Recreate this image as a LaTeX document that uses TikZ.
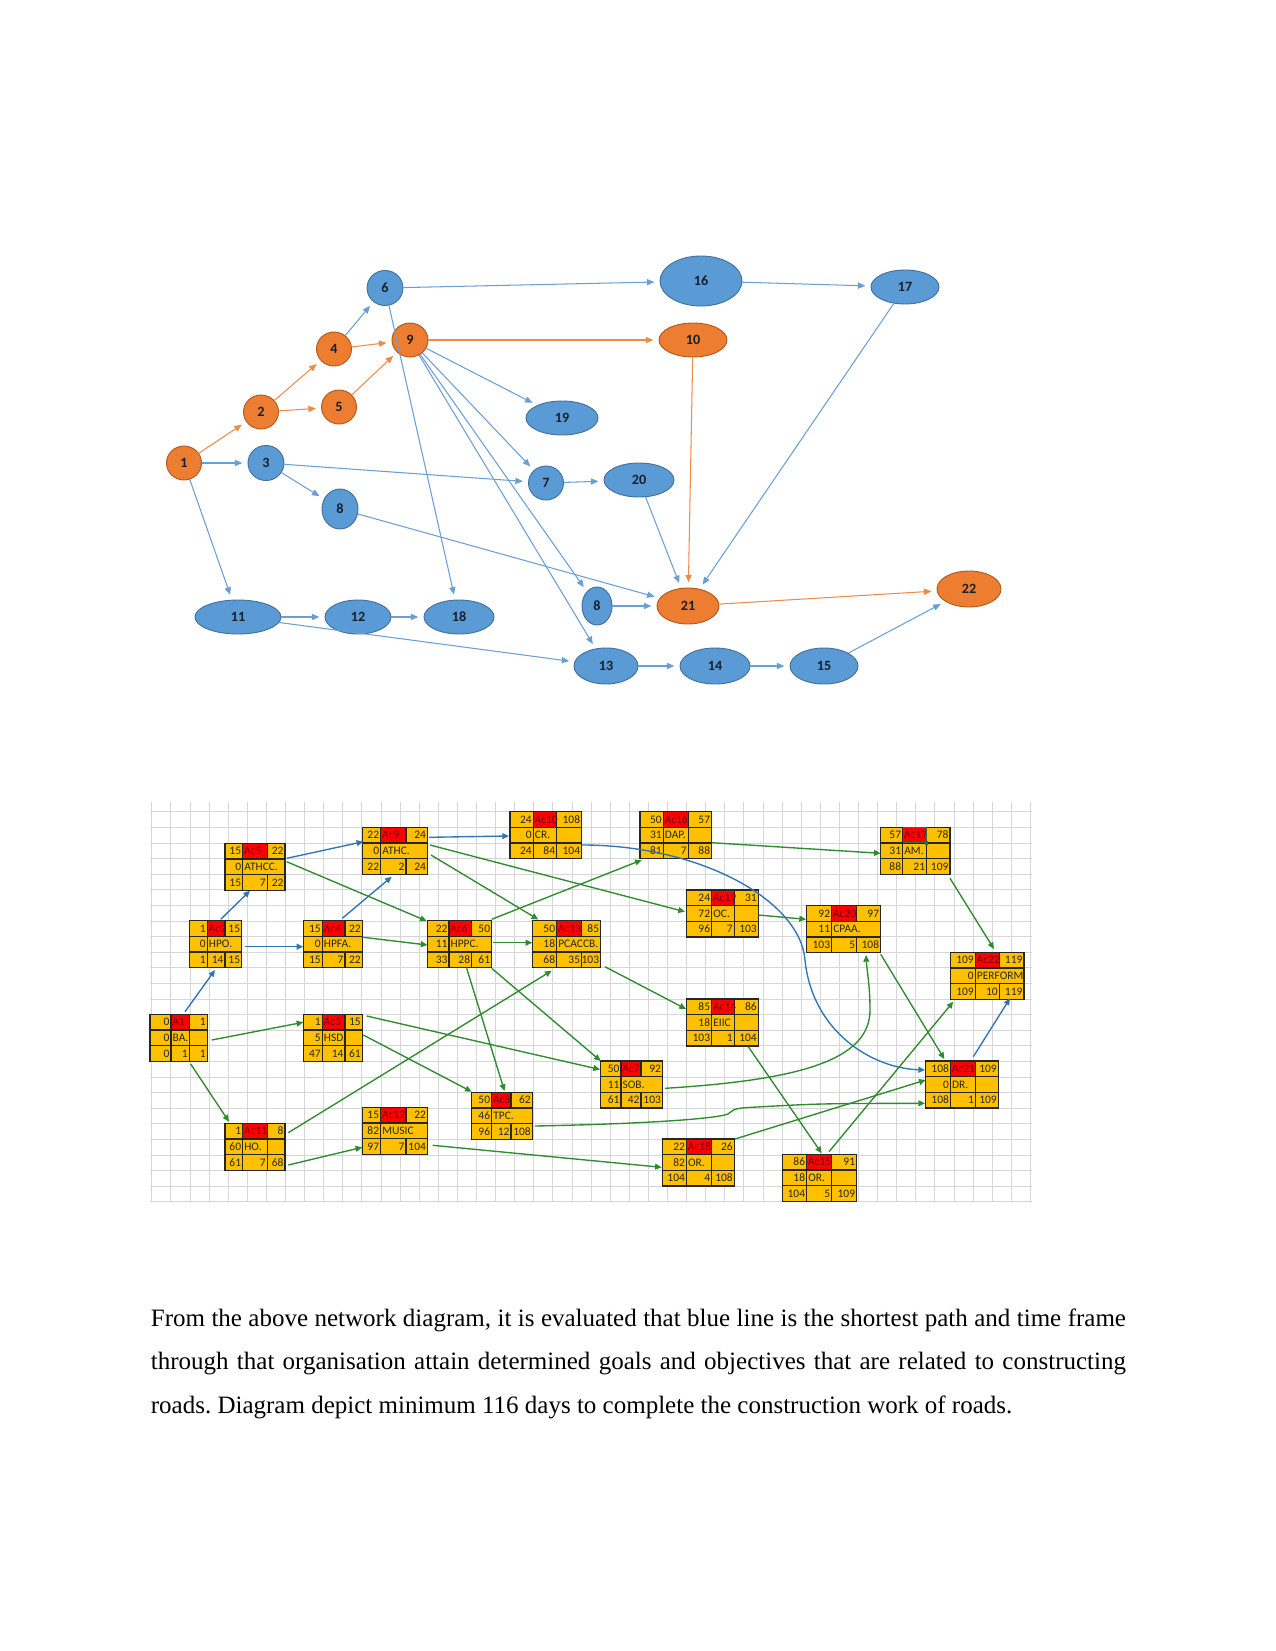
\documentclass[tikz,border=0pt]{standalone}
\usepackage{fontspec}
\setmainfont{Liberation Serif}
\newfontfamily\carl{Carlito}
\usetikzlibrary{arrows.meta,shapes.geometric,calc}
\definecolor{orF}{HTML}{ED7D31}
\definecolor{orD}{HTML}{AE5A21}
\definecolor{blF}{HTML}{5B9BD5}
\definecolor{blD}{HTML}{41719C}
\definecolor{blL}{HTML}{6A9ED6}
\definecolor{orL}{HTML}{EE8A4A}
\definecolor{cellY}{HTML}{FFC000}
\definecolor{cellR}{HTML}{FF0000}
\definecolor{labR}{HTML}{760000}
\definecolor{gL}{HTML}{2E8B2E}
\definecolor{bL}{HTML}{2E75B6}
\definecolor{gridc}{HTML}{D6D6D6}
\definecolor{txtD}{HTML}{15202B}
\definecolor{xlg}{HTML}{217346}

\newcommand\geo[6]{\def\bxA{#1}\def\bxB{#2}\def\bxC{#3}\def\bxD{#4}\def\byA{#5}\def\bdv{#6}}
\newcommand\actbox[9]{%
  \node[boxnode, minimum width={(\bxD-\bxA)*0.48pt}, anchor=north west] (#1) at (\bxA,\byA) {};
  \fill[cellR] (\bxB,\byA) rectangle (\bxC,{\byA+15.67});
  \draw[cellline] (\bxA,{\byA+15.67}) -- (\bxD,{\byA+15.67});
  \draw[cellline] (\bxA,{\byA+31.33}) -- (\bxD,{\byA+31.33});
  \draw[cellline] (\bxB,\byA) -- (\bxB,{\byA+47});
  \draw[cellline] (\bxC,\byA) -- (\bxC,{\byA+15.67});
  \draw[cellline] (\bxC,{\byA+31.33}) -- (\bxC,{\byA+47});
  \ifnum\bdv=1 \draw[cellline] (\bxC,{\byA+15.67}) -- (\bxC,{\byA+31.33});\fi
  \draw[cellline] (\bxA,\byA) rectangle (\bxD,{\byA+47});
  \node[num, anchor=east] (#1-a) at ({\bxB-1.2},{\byA+7.83}) {#2};
  \node[lab, anchor=west] (#1-b) at ({\bxB+0.9},{\byA+7.83}) {#3};
  \node[num, anchor=east] (#1-c) at ({\bxD-1.2},{\byA+7.83}) {#4};
  \node[num, anchor=east] (#1-d) at ({\bxB-1.2},{\byA+23.5}) {#5};
  \node[num, anchor=west] (#1-e) at ({\bxB+1.2},{\byA+23.5}) {#6};
  \node[num, anchor=east] (#1-f) at ({\bxB-1.2},{\byA+39.17}) {#7};
  \node[num, anchor=east] (#1-g) at ({\bxC-1.2},{\byA+39.17}) {#8};
  \node[num, anchor=east] (#1-h) at ({\bxD-1.2},{\byA+39.17}) {#9};
}

\begin{document}
\frenchspacing
\begin{tikzpicture}[x=0.48pt,y=-0.48pt,
  gnode/.style={ellipse, inner sep=0pt, line width=0.45pt, font=\carl\bfseries\fontsize{6.8}{7}\selectfont, text=txtD},
  on/.style={gnode, fill=orF, draw=orD},
  bn/.style={gnode, fill=blF, draw=blD},
  sz/.style 2 args={minimum width={#1*0.96pt}, minimum height={#2*0.96pt}},
  oe/.style={draw=orL, line width=0.5pt, -{Triangle[length=3.6pt,width=3pt]}, shorten >=2.5pt},
  be/.style={draw=blL, line width=0.5pt, -{Triangle[length=3.6pt,width=3pt]}, shorten >=2.5pt},
  boxnode/.style={fill=cellY, inner sep=0pt, minimum height=22.56pt},
  cellline/.style={draw=black!85, line width=0.65pt},
  num/.style={inner sep=0pt, text height=3.6pt, text depth=0pt, font=\carl\fontsize{5.5}{6}\selectfont, text=black!85},
  lab/.style={num, text=labR},
  gA/.style={draw=gL, line width=0.65pt, -{Triangle[length=3.2pt,width=2.8pt]}},
  bA/.style={draw=bL, line width=0.65pt, -{Triangle[length=3.2pt,width=2.8pt]}},
  gridl/.style={draw=gridc, line width=0.35pt}
]
\fill[white] (0,0) rectangle (1275,1651);
\useasboundingbox (0,0) rectangle (1275,1651);

% ---------------- top network ----------------
\node[on, sz={17.5}{17}] (n1) at (184,463) {1};
\node[on, sz={17.5}{17}] (n2) at (261,412) {2};
\node[bn, sz={18}{17.5}] (n3) at (266,463) {3};
\node[on, sz={17.5}{17}] (n4) at (334,349) {4};
\node[on, sz={17.5}{17}] (n5) at (339,407) {5};
\node[bn, sz={18}{17.5}] (n6) at (385,288) {6};
\node[on, sz={18}{17}] (n9) at (410,340) {9};
\node[bn, sz={18}{20}] (n8a) at (340,509) {8};
\node[bn, sz={36}{17}] (n19) at (562,418) {19};
\node[bn, sz={17.5}{17}] (n7) at (546,483) {7};
\node[bn, sz={41}{25}] (n16) at (701,281) {16};
\node[bn, sz={34}{17}] (n17) at (905,287) {17};
\node[on, sz={34}{17}] (n10) at (693,340) {10};
\node[bn, sz={35}{17}] (n20) at (639,480) {20};
\node[bn, sz={43}{17}] (n11) at (238,617) {11};
\node[bn, sz={33}{17}] (n12) at (358,617) {12};
\node[bn, sz={35}{17}] (n18) at (459,617) {18};
\node[bn, sz={15}{19}] (n8b) at (597,606) {8};
\node[on, sz={31}{18}] (n21) at (688,606) {21};
\node[on, sz={32}{18}] (n22) at (969,589) {22};
\node[bn, sz={32}{18}] (n13) at (606,666) {13};
\node[bn, sz={35}{18}] (n14) at (715,666) {14};
\node[bn, sz={34}{18}] (n15) at (824,666) {15};

\draw[oe] (n1) -- (n2);
\draw[oe] (n2) -- (n4);
\draw[oe] (n2) -- (n5);
\draw[oe] (n4) -- (n9);
\draw[oe] (n5) -- (n9);
\draw[oe] (n9) -- (n10);
\draw[oe] (n10) -- (n21);
\draw[oe] (n21) -- (n22);
\draw[be] (n1) -- (n3);
\draw[be] (n1) -- (n11);
\draw[be] (n3) -- (n7);
\draw[be] (n3) -- (n8a);
\draw[be] (n4) -- (n6);
\draw[be] (n6) -- (n16);
\draw[be] (n6) -- (n18);
\draw[be] (n9) -- (n19);
\draw[be] (n9) -- (n7);
\draw[be] (n9) -- (n8b);
\draw[be] (n9) -- (n13);
\draw[be] (n7) -- (n20);
\draw[be] (n20) -- (n21);
\draw[be] (n16) -- (n17);
\draw[be] (n17) -- (n21);
\draw[be] (n8a) -- (n21);
\draw[be] (n8b) -- (n21);
\draw[be] (n11) -- (n12);
\draw[be] (n12) -- (n18);
\draw[be] (n11) -- (n13);
\draw[be] (n13) -- (n14);
\draw[be] (n14) -- (n15);
\draw[be] (n15) -- (n22);

% ---------------- grid ----------------
\foreach \k in {0,...,46} \draw[gridl] ({151.7+19.1*\k},802) -- ({151.7+19.1*\k},1202);
\foreach \k in {0,...,25} \draw[gridl] (150,{811.7+15.6*\k}) -- (1032,{811.7+15.6*\k});

% ---------------- activity boxes ----------------
\geo{150}{171}{189.3}{207.3}{1014.3}{1}\actbox{A1}{0}{A1}{1}{0}{BA.}{0}{1}{1}
\geo{189.3}{207.3}{225}{241.7}{920.7}{0}\actbox{Ac2}{1}{Ac2}{15}{0}{HPO.}{1}{14}{15}
\geo{303.3}{322.3}{345}{362.3}{1014.3}{1}\actbox{Ac3}{1}{Ac3}{15}{5}{HSD.}{47}{14}{61}
\geo{303.3}{322.3}{345}{362.3}{920.7}{0}\actbox{Ac4}{15}{Ac4}{22}{0}{HPFA.}{15}{7}{22}
\geo{225}{242.7}{267.3}{285}{843.3}{0}\actbox{Ac5}{15}{Ac5}{22}{0}{ATHCC.}{15}{7}{22}
\geo{427.5}{449}{471.7}{491.7}{920.7}{0}\actbox{Ac6}{22}{Ac6}{50}{11}{HPPC.}{33}{28}{61}
\geo{600.7}{621}{641}{662.5}{1061}{0}\actbox{Ac7}{50}{Ac7}{92}{11}{SOB.}{61}{42}{103}
\geo{471.7}{491.7}{511}{532.3}{1092.3}{0}\actbox{Ac8}{50}{Ac8}{62}{46}{TPC.}{96}{12}{108}
\geo{362.3}{380.7}{406}{427.5}{827.3}{0}\actbox{Ac9}{22}{Ac9}{24}{0}{ATHC.}{22}{2}{24}
\geo{510}{533.3}{556.7}{581.7}{811.7}{1}\actbox{Ac10}{24}{Ac10}{108}{0}{CR.}{24}{84}{104}
\geo{225}{242.7}{267.3}{285}{1123.3}{1}\actbox{Ac11}{1}{Ac11}{8}{60}{HO.}{61}{7}{68}
\geo{362.3}{380.7}{406}{427.5}{1107.3}{0}\actbox{Ac12}{15}{Ac12}{22}{82}{MUSIC}{97}{7}{104}
\geo{532.3}{556.7}{581.7}{600.7}{920.7}{0}\actbox{Ac13}{50}{Ac13}{85}{18}{PCACCB.}{68}{35}{103}
\geo{686.5}{711.7}{734.3}{758.3}{999}{1}\actbox{Ac14}{85}{Ac14}{86}{18}{EIIC}{103}{1}{104}
\geo{782.3}{806.7}{831.7}{856.7}{1154.3}{1}\actbox{Ac15}{86}{Ac15}{91}{18}{OR.}{104}{5}{109}
\geo{640}{663.3}{688.3}{711.7}{811.7}{1}\actbox{Ac16}{50}{Ac16}{57}{31}{DAP.}{81}{7}{88}
\geo{880.7}{902.7}{926.7}{950}{827.3}{1}\actbox{Ac17}{57}{Ac17}{78}{31}{AM.}{88}{21}{109}
\geo{662.5}{686.5}{711.7}{734.3}{1139}{1}\actbox{Ac18}{22}{Ac18}{26}{82}{OR.}{104}{4}{108}
\geo{686.5}{711.7}{734.3}{758.3}{890}{1}\actbox{Ac19}{24}{Ac19}{31}{72}{OC.}{96}{7}{103}
\geo{806.7}{831.7}{856.7}{880.7}{905.7}{0}\actbox{Ac20}{92}{Ac20}{97}{11}{CPAA.}{103}{5}{108}
\geo{925.7}{950.5}{975.5}{998.3}{1061}{1}\actbox{Ac21}{108}{Ac21}{109}{0}{DR.}{108}{1}{109}
\geo{950.5}{975.3}{999.3}{1024}{952.3}{0}\actbox{Ac22}{109}{Ac22}{119}{0}{PERFORM}{109}{10}{119}

% selected cell marker
\draw[draw=xlg, line width=0.6pt] ($(Ac17.north west)+(22.5,0.3)$) rectangle ($(Ac17.north west)+(45.5,15.4)$);
\fill[xlg] ($(Ac17.north west)+(44,14)$) rectangle ($(Ac17.north west)+(47.5,17.5)$);

% ---------------- connectors: blue ----------------
\draw[bA] ($(A1.north west)+(35,-2.6)$) -- ($(Ac2.north west)+(25.7,49.3)$);
\draw[bA] ($(Ac2.north west)+(31.4,-1.4)$) -- ($(Ac5.north west)+(25,47.4)$);
\draw[bA] ($(Ac2.north west)+(55.7,26)$) -- ($(Ac4.north west)+(0,26)$);
\draw[bA] ($(Ac5.north west)+(61.7,15)$) -- ($(Ac9.north west)+(1,14.4)$);
\draw[bA] ($(Ac4.north west)+(39,-2.4)$) -- ($(Ac9.north west)+(29.4,49.4)$);
\draw[bA] ($(Ac9.north west)+(66.7,10)$) -- ($(Ac10.north west)+(-1,24.3)$);
\draw[bA] ($(Ac10.north west)+(72,33.3)$) .. controls (700,845) and (800,900) .. (805,960) .. controls (812,1030) and (870,1068) .. ($(Ac21.north west)+(-0.7,9)$);
\draw[bA] ($(Ac21.north west)+(47.6,-4.3)$) -- ($(Ac22.north west)+(59.5,46)$);

% ---------------- connectors: green ----------------
\draw[gA] ($(A1.north west)+(61.7,25.7)$) -- ($(Ac3.north west)+(0,8)$);
\draw[gA] ($(A1.north west)+(40.7,49.7)$) -- ($(Ac11.north west)+(4,-1.6)$);
\draw[gA] ($(Ac5.north west)+(61.7,18.4)$) -- ($(Ac6.north west)+(-0.8,0.3)$);
\draw[gA] ($(Ac4.north west)+(60,16.6)$) -- ($(Ac6.north west)+(0,24.3)$);
\draw[gA] ($(Ac9.north west)+(68.7,27.7)$) -- ($(Ac13.north west)+(6,-1.2)$);
\draw[gA] ($(Ac9.north west)+(67.7,17.7)$) -- ($(Ac19.north west)+(-1.5,21.7)$);
\draw[gA] ($(Ac6.north west)+(65.8,22)$) -- ($(Ac13.north west)+(0,22)$);
\draw[gA] ($(Ac6.north west)+(64.2,-1.4)$) -- ($(Ac16.north west)+(1.7,48.3)$);
\draw[gA] ($(Ac6.north west)+(39.2,47.6)$) -- ($(Ac8.north west)+(32.8,-1.3)$);
\draw[gA] ($(Ac6.north west)+(64.2,47.6)$) -- ($(Ac7.north west)+(0,0)$);
\draw[gA] ($(Ac3.north west)+(63.4,1.7)$) -- ($(Ac7.north west)+(-0.7,8.5)$);
\draw[gA] ($(Ac3.north west)+(60,20.7)$) -- ($(Ac8.north west)+(0,-0.6)$);
\draw[gA] ($(Ac11.north west)+(63.3,9.4)$) -- ($(Ac13.north west)+(19.4,50)$);
\draw[gA] ($(Ac11.north west)+(63.3,41.7)$) -- ($(Ac12.north west)+(0,40)$);
\draw[gA] ($(Ac12.north west)+(70.4,38)$) -- ($(Ac18.north west)+(-0.8,28.3)$);
\draw[gA] ($(Ac8.north west)+(63.3,33.7)$) .. controls (640,1124) and (715,1119) .. (728,1114) .. controls (733,1111) and (731,1108.5) .. (748,1107.5) .. controls (820,1103.5) .. ($(Ac21.north west)+(-0.7,42.3)$);
\draw[gA] ($(Ac7.north west)+(64.3,27.3)$) .. controls (800,1080) and (870,1060) .. (870,1010) .. controls (870,985) and (867,972) .. ($(Ac20.north west)+(59.3,49.3)$);
\draw[gA] ($(Ac19.north west)+(71.8,25)$) -- ($(Ac20.north west)+(-0.7,13.6)$);
\draw[gA] ($(Ac16.north west)+(71.7,31)$) -- ($(Ac17.north west)+(0,26)$);
\draw[gA] ($(Ac13.north west)+(72.7,46)$) -- ($(Ac14.north west)+(-0.5,10)$);
\draw[gA] ($(Ac17.north west)+(69.3,51)$) -- ($(Ac22.north west)+(43.5,-3.3)$);
\draw[gA] ($(Ac20.north west)+(74,48.6)$) -- ($(Ac21.north west)+(18.6,-2)$);
\draw[gA] ($(Ac14.north west)+(61.8,47.7)$) -- ($(Ac15.north west)+(39.4,-1)$);
\draw[gA] ($(Ac15.north west)+(46.7,-2.6)$) -- ($(Ac22.north west)+(2.8,49.4)$);
\draw[gA] ($(Ac18.north west)+(72.5,0)$) -- ($(Ac21.north west)+(0,19)$);

% ---------------- paragraph ----------------
\node[anchor=base west, inner sep=0pt, font=\fontsize{12}{14}\selectfont] (p1) at (150.5,1326.5) {\makebox[468pt][s]{From the above network diagram, it is evaluated that blue line is the shortest path and time frame}};
\node[anchor=base west, inner sep=0pt, font=\fontsize{12}{14}\selectfont] (p2) at (150.5,1369.8) {\makebox[468pt][s]{through that organisation attain determined goals and objectives that are related to constructing}};
\node[anchor=base west, inner sep=0pt, font=\fontsize{12}{14}\selectfont] (p3) at (150.5,1413) {roads. Diagram depict minimum 116 days to complete the construction work of roads.};
\end{tikzpicture}
\end{document}
